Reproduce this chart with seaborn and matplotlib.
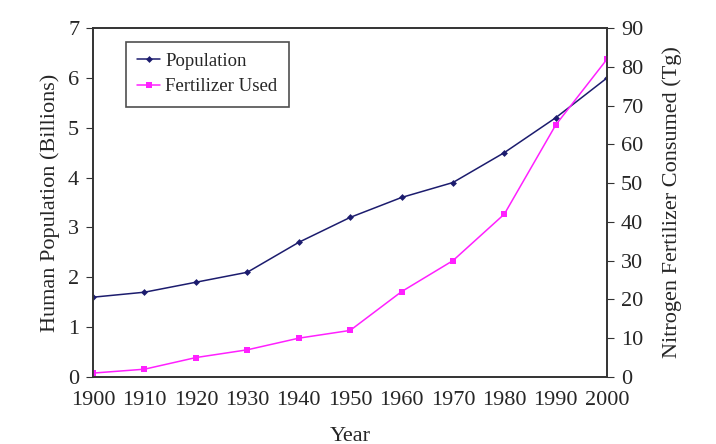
import pandas as pd
import matplotlib.pyplot as plt
import seaborn as sns

# Daten
years = [1900, 1910, 1920, 1930, 1940, 1950, 1960, 1970, 1980, 1990, 2000]
population = [1.6, 1.7, 1.9, 2.1, 2.7, 3.2, 3.6, 3.9, 4.5, 5.2, 6.0]
fertilizer = [1, 2, 5, 7, 10, 12, 22, 30, 42, 65, 82]

df = pd.DataFrame({'Year': years, 'Population': population, 'Fertilizer': fertilizer})

sns.set_style('white')
plt.rcParams['font.family'] = ['Liberation Serif', 'DejaVu Serif']
plt.rcParams['axes.linewidth'] = 1.2

fig, ax = plt.subplots(figsize=(7.16, 4.44), dpi=100)
fig.subplots_adjust(left=0.130, right=0.848, top=0.937, bottom=0.151)

ax2 = ax.twinx()

sns.lineplot(data=df, x='Year', y='Population', ax=ax, color='#1c1c6e', marker='D',
             markersize=3.5, markeredgewidth=0, linewidth=1.1, label='Population', legend=False)
sns.lineplot(data=df, x='Year', y='Fertilizer', ax=ax2, color='#ff20ff', marker='s',
             markersize=5, markeredgewidth=0, linewidth=1.1, label='Fertilizer Used', legend=False)

ax.set_xlim(1900, 2000)
ax.set_ylim(0, 7)
ax2.set_ylim(0, 90)
ax.set_xticks(years)
ax.set_yticks(range(0, 8))
ax2.set_yticks(range(0, 91, 10))

ax.set_xlabel('Year', fontsize=16, labelpad=12)
ax.set_ylabel('Human Population (Billions)', fontsize=16, labelpad=6)
ax2.set_ylabel('Nitrogen Fertilizer Consumed (Tg)', fontsize=16, labelpad=14)

ax.tick_params(axis='x', direction='in', length=5, labelsize=16, pad=10, color='#333333')
ax.tick_params(axis='y', direction='out', length=5, labelsize=16, left=True, pad=5, color='#333333')
ax2.tick_params(axis='y', direction='out', length=5, labelsize=16, right=True, pad=5, color='#333333')

for a in (ax, ax2):
    for spine in a.spines.values():
        spine.set_color('#333333')

h1, l1 = ax.get_legend_handles_labels()
h2, l2 = ax2.get_legend_handles_labels()
leg = ax.legend(h1 + h2, l1 + l2, loc='upper left', bbox_to_anchor=(0.046, 0.988),
                fontsize=13.5, frameon=True, fancybox=False, handlelength=1.2,
                handletextpad=0.3, borderpad=0.6, labelspacing=0.45)
leg.get_frame().set_edgecolor('#222222')
leg.get_frame().set_linewidth(1.2)

plt.savefig('out.png', dpi=100)
plt.close()
